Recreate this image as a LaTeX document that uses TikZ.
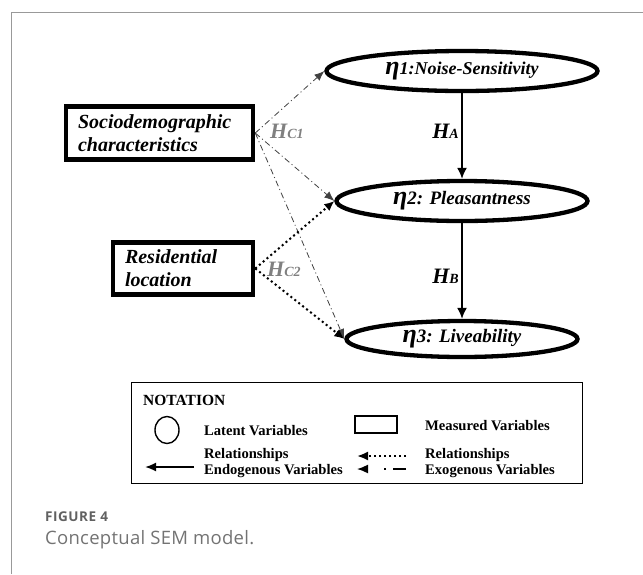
\documentclass[tikz,border=0pt]{standalone}
\usepackage{fontspec}
\setmainfont{Liberation Serif}
\newfontfamily\capfont{Open Sans}
\usetikzlibrary{shapes.geometric,arrows.meta}
\newcommand\etatext[2]{{\fontsize{26}{26}\selectfont η}{\fontsize{#1}{#1}\selectfont #2}}
\newcommand\hyplab[1]{{\fontsize{22}{22}\selectfont H}{\fontsize{14}{14}\selectfont #1}}
\begin{document}
\begin{tikzpicture}[x=1pt,y=-1pt,
  latent/.style={ellipse, draw, line width=4.3pt, inner sep=0pt, font=\bfseries\itshape},
  measured/.style={rectangle, draw, line width=4.5pt, inner ysep=0pt, inner xsep=12pt, align=left, font=\fontsize{20}{23}\selectfont\bfseries\itshape},
  endo/.style={line width=1.8pt, -{Latex[length=11pt,width=10pt]}},
  exo/.style={line width=0.8pt, draw=black!75, dash pattern=on 6pt off 3pt on 1pt off 3pt, -{Latex[length=10pt,width=8pt]}},
  dotrel/.style={line width=2pt, dash pattern=on 2pt off 3pt, -{Latex[length=10pt,width=9pt]}},
  hyp/.style={font=\bfseries\itshape, inner sep=0pt},
  legtext/.style={font=\fontsize{14.6}{16}\selectfont\bfseries, anchor=west, align=left, inner sep=0pt},
  captext/.style={anchor=west, inner sep=0pt}
]
\useasboundingbox (0,0) rectangle (643,574);
% outer frame
\draw[black!40, line width=1pt] (11,574) -- (11,12) -- (643,12);

% latent variables
\node[latent, minimum width=271pt, minimum height=40pt] (e1) at (462,71) {\etatext{18}{1:Noise-Sensitivity}};
\node[latent, minimum width=251pt, minimum height=40pt] (e2) at (462,201) {\etatext{19}{2: Pleasantness}};
\node[latent, minimum width=231pt, minimum height=36pt] (e3) at (462,339) {\etatext{19}{3: Liveability}};

% measured variables
\node[measured, text width=163pt, minimum height=53pt] (soc) at (159.5,133) {Sociodemographic\\characteristics};
\node[measured, text width=116pt, minimum height=52pt] (res) at (183,268.5) {Residential\\location};

% paths
\draw[endo] (e1.south) -- (e2.north);
\draw[endo] (e2.south) -- (e3.north);
\draw[exo] (soc.east) -- (e1.west);
\draw[exo] (soc.east) -- (e2.west);
\draw[exo] (soc.east) -- (e3.west);
\draw[dotrel] (res.east) -- (e2.west);
\draw[dotrel] (res.east) -- (e3.west);

% hypothesis labels
\node[hyp, anchor=east] (ha) at (459,131) {\hyplab{A}};
\node[hyp, anchor=east] (hb) at (459,276) {\hyplab{B}};
\node[hyp, anchor=west, text=black!50] (hc1) at (270,131) {\hyplab{C1}};
\node[hyp, anchor=west, text=black!50] (hc2) at (267,269) {\hyplab{C2}};

% legend
\node[draw, line width=1.6pt, minimum width=451pt, minimum height=101pt, inner sep=0pt] (leg) at (357,433) {};
\node[legtext, font=\fontsize{15.5}{16}\selectfont\bfseries] (nt) at (143,400) {NOTATION};
\node[ellipse, draw, line width=1.4pt, minimum width=24pt, minimum height=27pt, inner sep=0pt] (lc) at (167,430) {};
\node[legtext] (lt) at (204,431) {Latent Variables};
\node[draw, line width=1.4pt, minimum width=42pt, minimum height=17pt, inner sep=0pt] (lr) at (376,424.5) {};
\node[legtext] (mt) at (425,426) {Measured Variables};
\coordinate (a1s) at (194,467); \coordinate (a1e) at (145,467);
\draw[line width=1.8pt, -{Latex[length=11pt,width=9pt]}] (a1s) -- (a1e);
\node[legtext] (en) at (204,463) {Relationships\\Endogenous Variables};
\coordinate (a2s) at (406,456); \coordinate (a2e) at (357,456);
\draw[line width=2pt, dash pattern=on 2pt off 3pt, -{Latex[length=11pt,width=9pt]}] (a2s) -- (a2e);
\coordinate (a3s) at (406,469); \coordinate (a3e) at (357,469);
\draw[line width=1.6pt, dash pattern=on 13pt off 7pt on 2pt off 30pt, -{Latex[length=11pt,width=9pt]}] (a3s) -- (a3e);
\node[legtext] (ex) at (425,463) {Relationships\\Exogenous Variables};

% caption
\node[captext, font=\capfont\fontsize{13.5}{14}\selectfont\bfseries\addfontfeature{LetterSpace=4}, text=black!62] (fig) at (45,517) {FIGURE 4};
\node[captext, font=\capfont\fontsize{18.5}{19}\selectfont\addfontfeature{LetterSpace=1.5}, text=black!55] (capt) at (45,540) {Conceptual SEM model.};
\end{tikzpicture}
\end{document}
